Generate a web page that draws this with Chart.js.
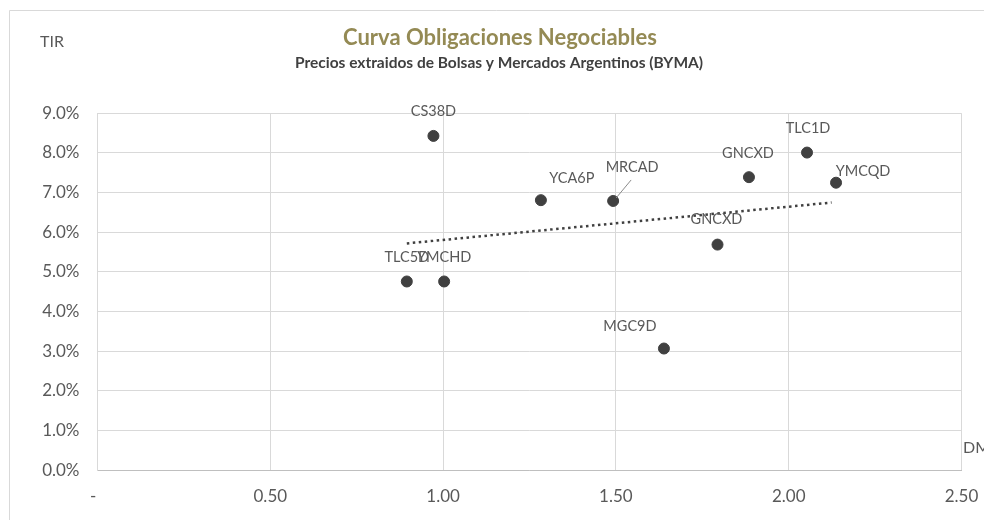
<!DOCTYPE html>
<html>
<head>
<meta charset="utf-8">
<script src="https://cdn.jsdelivr.net/npm/chart.js@4/dist/chart.umd.min.js"></script>
<style>
  html, body { margin: 0; padding: 0; background: #fff; }
  #wrap { width: 984px; height: 520px; position: relative; }
</style>
</head>
<body>
<div id="wrap"><canvas id="curvaON" width="984" height="520"></canvas></div>
<script>
// Datos
const bonos    = ['CS38D', 'TLC5D', 'YMCHD', 'YCA6P', 'MRCAD', 'GNCXD', 'TLC1D', 'YMCQD', 'GNCXD', 'MGC9D'];
const duracion = [0.972, 0.895, 1.003, 1.283, 1.492, 1.885, 2.053, 2.137, 1.794, 1.639];
const tir      = [8.43, 4.76, 4.76, 6.81, 6.79, 7.39, 8.01, 7.25, 5.69, 3.07];

// Linea de tendencia (extremos)
const tendenciaDM  = [0.895, 2.124];
const tendenciaTIR = [5.72, 6.75];

const FONT = 'Lato, "Open Sans", sans-serif';
const GRIS = '#595959';

// Desplazamiento de cada etiqueta respecto de su punto (px)
const offsetsEtiquetas = [
  [0, -25], [0, -24.5], [0, -24.5], [31, -22], [19, -34],
  [-1, -24], [1, -24], [27, -11], [-1, -25], [-34, -22]
];

const puntos = duracion.map((x, i) => ({ x, y: tir[i] }));
const tendencia = tendenciaDM.map((x, i) => ({ x, y: tendenciaTIR[i] }));

// Textos, marco y etiquetas de datos
const decoracion = {
  id: 'decoracion',
  beforeDraw(chart) {
    const c = chart.ctx;
    c.save();
    c.fillStyle = '#fff';
    c.fillRect(0, 0, chart.width, chart.height);
    c.strokeStyle = '#d9d9d9';
    c.lineWidth = 1;
    c.beginPath();
    c.moveTo(9.5, chart.height);
    c.lineTo(9.5, 10.5);
    c.lineTo(chart.width, 10.5);
    c.stroke();
    c.restore();
  },
  afterDraw(chart) {
    const c = chart.ctx;
    const sx = chart.scales.x, sy = chart.scales.y;
    c.save();
    c.textAlign = 'center';
    c.textBaseline = 'middle';

    c.fillStyle = '#948A54';
    c.font = 'bold 22px ' + FONT;
    c.fillText('Curva Obligaciones Negociables', 500, 38);

    c.fillStyle = '#404040';
    c.font = 'bold 15.5px ' + FONT;
    c.fillText('Precios extraidos de Bolsas y Mercados Argentinos (BYMA)', 499, 63);

    c.fillStyle = GRIS;
    c.font = '16px ' + FONT;
    c.textAlign = 'left';
    c.fillText('TIR', 40, 42);
    c.fillText('DM', 963, 448);

    c.textAlign = 'center';
    c.font = '14.5px ' + FONT;
    bonos.forEach((b, i) => {
      const px = sx.getPixelForValue(duracion[i]);
      const py = sy.getPixelForValue(tir[i]);
      const [dx, dy] = offsetsEtiquetas[i];
      c.fillText(b, px + dx, py + dy);
      if (b === 'MRCAD') {
        c.strokeStyle = '#8c8c8c';
        c.lineWidth = 1;
        c.beginPath();
        c.moveTo(px + dx - 1, py + dy + 13);
        c.lineTo(px + 3, py - 3);
        c.stroke();
      }
    });
    c.restore();
  }
};

new Chart(document.getElementById('curvaON').getContext('2d'), {
  type: 'scatter',
  data: {
    datasets: [
      {
        label: 'TIR',
        data: puntos,
        backgroundColor: '#404040',
        borderColor: '#404040',
        pointRadius: 5.5,
        pointHoverRadius: 5.5,
        order: 1,
      },
      {
        label: 'Tendencia',
        data: tendencia,
        showLine: true,
        borderColor: '#404040',
        borderWidth: 2.5,
        borderDash: [2.5, 3.5],
        pointRadius: 0,
        fill: false,
        order: 2,
      }
    ]
  },
  options: {
    responsive: false,
    animation: false,
    devicePixelRatio: 1,
    layout: { padding: { left: 0, top: 113.3, right: 22.5, bottom: 0 } },
    plugins: {
      legend: { display: false },
      tooltip: { enabled: false },
      title: { display: false },
    },
    scales: {
      x: {
        type: 'linear',
        min: 0,
        max: 2.5,
        afterFit: s => { s.height = 49.7; s.paddingLeft = 0; s.paddingRight = 0; },
        border: { display: true, color: '#bfbfbf', width: 1 },
        grid: { color: '#d9d9d9', drawTicks: false },
        ticks: {
          stepSize: 0.5,
          padding: 16,
          color: GRIS,
          font: { family: FONT, size: 17 },
          callback: v => v === 0 ? '-  ' : v.toFixed(2),
        }
      },
      y: {
        type: 'linear',
        min: 0,
        max: 9,
        afterFit: s => { s.width = 97.5; s.paddingTop = 0; s.paddingBottom = 0; },
        border: { display: true, color: '#d9d9d9', width: 1 },
        grid: { color: '#d9d9d9', drawTicks: false },
        ticks: {
          stepSize: 1,
          padding: 18,
          color: GRIS,
          font: { family: FONT, size: 17 },
          callback: v => v.toFixed(1) + '%',
        }
      }
    }
  },
  plugins: [decoracion]
});
</script>
</body>
</html>
